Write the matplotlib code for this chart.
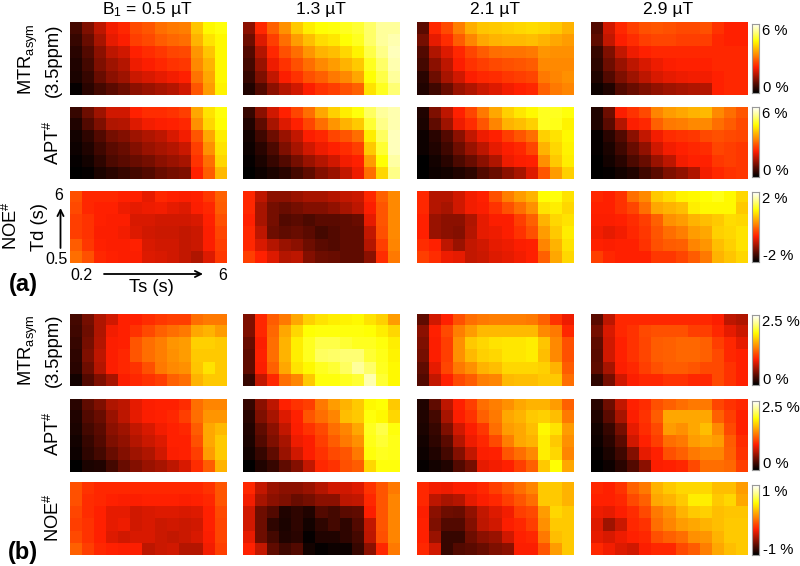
import matplotlib
matplotlib.use("Agg")
import matplotlib.pyplot as plt
from matplotlib.colors import LinearSegmentedColormap
import numpy as np

plt.rcParams['font.family'] = ['Liberation Sans', 'DejaVu Sans']
plt.rcParams['mathtext.fontset'] = 'custom'
plt.rcParams['mathtext.rm'] = 'Liberation Sans'
plt.rcParams['mathtext.default'] = 'regular'

# all maps are given as position on the colour scale (0 = bottom of colorbar, 1 = top)
# rows run top to bottom (Td 6 -> 0.5), columns left to right (Ts 0.2 -> 6)
a_mtr_05 = [[.10,.18,.27,.35,.38,.44,.46,.50,.52,.53,.65,.74,.76],
            [.08,.15,.24,.33,.36,.42,.44,.47,.49,.50,.62,.70,.74],
            [.06,.12,.20,.27,.30,.37,.39,.41,.43,.44,.57,.65,.74],
            [.05,.10,.18,.23,.26,.34,.36,.38,.40,.41,.55,.62,.74],
            [.04,.08,.15,.20,.23,.29,.31,.33,.35,.37,.51,.60,.74],
            [.01,.06,.10,.13,.16,.20,.22,.24,.26,.30,.46,.58,.73]]
a_mtr_13 = [[.20,.38,.48,.56,.66,.72,.75,.76,.78,.80,.85,.90,.90],
            [.16,.32,.42,.50,.58,.64,.69,.71,.75,.78,.85,.90,.92],
            [.12,.26,.38,.45,.50,.57,.62,.64,.68,.73,.82,.88,.93],
            [.10,.22,.34,.40,.45,.50,.55,.58,.62,.66,.78,.85,.92],
            [.08,.18,.28,.36,.40,.45,.48,.52,.55,.60,.75,.82,.90],
            [.05,.12,.20,.26,.30,.36,.40,.42,.45,.48,.70,.78,.86]]
a_mtr_21 = [[.13,.38,.44,.53,.61,.65,.66,.67,.68,.69,.68,.66,.62],
            [.17,.33,.39,.47,.54,.60,.62,.63,.63,.64,.62,.60,.58],
            [.12,.25,.32,.38,.43,.47,.50,.51,.51,.52,.57,.56,.56],
            [.10,.20,.27,.36,.40,.42,.44,.45,.46,.47,.55,.55,.55],
            [.06,.16,.24,.30,.36,.38,.39,.41,.42,.43,.52,.54,.56],
            [.05,.09,.15,.22,.25,.29,.32,.35,.37,.38,.48,.52,.54]]
a_mtr_29 = [[.12,.30,.38,.42,.45,.46,.45,.44,.44,.45,.40,.37,.37],
            [.14,.28,.36,.39,.42,.43,.43,.42,.42,.42,.38,.37,.37],
            [.08,.18,.28,.34,.37,.38,.38,.38,.38,.38,.38,.38,.38],
            [.07,.16,.22,.27,.31,.34,.36,.37,.37,.37,.38,.38,.38],
            [.05,.12,.18,.23,.27,.31,.33,.34,.35,.35,.37,.38,.38],
            [.02,.05,.12,.15,.18,.21,.23,.24,.25,.26,.37,.38,.38]]

a_apt_05 = [[.08,.16,.23,.30,.30,.37,.39,.39,.40,.42,.60,.70,.76],
            [.05,.12,.18,.25,.26,.32,.35,.36,.37,.38,.56,.68,.75],
            [.03,.07,.12,.17,.19,.23,.25,.27,.31,.35,.46,.60,.72],
            [.02,.05,.09,.13,.15,.19,.22,.24,.26,.29,.42,.56,.70],
            [.01,.03,.07,.11,.13,.15,.17,.20,.22,.24,.40,.50,.68],
            [.00,.01,.04,.06,.08,.10,.12,.15,.17,.18,.37,.47,.63]]
a_apt_13 = [[.08,.20,.30,.37,.43,.50,.60,.67,.72,.76,.84,.90,.92],
            [.05,.14,.24,.32,.37,.43,.50,.57,.62,.66,.80,.88,.92],
            [.03,.09,.16,.22,.28,.36,.38,.43,.46,.50,.72,.84,.93],
            [.02,.06,.11,.18,.24,.30,.34,.37,.39,.42,.66,.80,.93],
            [.01,.04,.08,.12,.17,.22,.26,.30,.35,.37,.58,.75,.91],
            [.00,.02,.04,.06,.10,.14,.19,.22,.28,.34,.50,.68,.88]]
a_apt_21 = [[.05,.18,.27,.37,.43,.52,.60,.67,.71,.74,.78,.78,.76],
            [.04,.14,.23,.34,.39,.46,.54,.62,.64,.67,.78,.77,.73],
            [.02,.06,.12,.20,.28,.34,.37,.42,.46,.50,.67,.70,.74],
            [.02,.05,.09,.16,.22,.27,.33,.36,.38,.43,.62,.68,.73],
            [.00,.03,.06,.11,.15,.20,.25,.34,.36,.37,.56,.66,.72],
            [.00,.02,.03,.05,.07,.12,.15,.20,.24,.32,.46,.58,.67]]
a_apt_29 = [[.05,.16,.36,.40,.44,.54,.58,.60,.62,.63,.55,.50,.46],
            [.05,.13,.26,.36,.38,.48,.52,.53,.55,.55,.50,.47,.44],
            [.01,.06,.12,.20,.28,.35,.39,.40,.41,.44,.45,.44,.43],
            [.01,.04,.09,.15,.21,.30,.35,.37,.38,.39,.43,.42,.41],
            [.00,.03,.06,.11,.15,.22,.27,.35,.37,.37,.41,.42,.41],
            [.00,.01,.03,.05,.09,.13,.18,.21,.25,.35,.38,.40,.41]]

a_noe_05 = [[.45,.38,.38,.38,.37,.37,.33,.38,.37,.36,.37,.41,.48],
            [.44,.38,.37,.37,.34,.33,.34,.35,.33,.32,.36,.38,.47],
            [.42,.40,.37,.36,.36,.31,.31,.30,.30,.30,.31,.37,.45],
            [.42,.40,.36,.36,.35,.32,.30,.29,.29,.28,.29,.36,.43],
            [.47,.41,.37,.36,.36,.37,.31,.30,.30,.28,.29,.36,.42],
            [.50,.45,.38,.37,.36,.36,.32,.31,.30,.28,.25,.32,.41]]
a_noe_13 = [[.38,.27,.20,.20,.22,.24,.24,.26,.28,.29,.38,.48,.55],
            [.38,.24,.17,.15,.17,.19,.19,.21,.24,.27,.36,.46,.55],
            [.37,.24,.17,.12,.13,.11,.13,.13,.14,.15,.33,.46,.55],
            [.38,.27,.16,.14,.15,.13,.10,.12,.14,.14,.28,.45,.55],
            [.38,.31,.26,.22,.20,.16,.13,.12,.14,.14,.26,.42,.54],
            [.42,.37,.32,.26,.27,.19,.16,.15,.14,.14,.20,.39,.52]]
a_noe_21 = [[.38,.26,.26,.30,.35,.37,.45,.53,.58,.62,.75,.76,.70],
            [.38,.26,.24,.30,.35,.36,.40,.45,.50,.56,.70,.72,.68],
            [.37,.22,.20,.20,.25,.33,.36,.36,.42,.48,.62,.68,.70],
            [.37,.22,.20,.19,.26,.33,.34,.36,.40,.45,.58,.66,.72],
            [.39,.37,.27,.22,.28,.30,.33,.34,.36,.37,.54,.62,.70],
            [.42,.39,.34,.33,.28,.29,.32,.33,.35,.37,.48,.60,.68]]
a_noe_29 = [[.38,.37,.40,.50,.55,.66,.69,.73,.74,.75,.77,.74,.68],
            [.37,.37,.40,.43,.50,.60,.62,.64,.72,.74,.74,.74,.66],
            [.36,.36,.37,.39,.42,.48,.56,.58,.62,.64,.66,.69,.68],
            [.35,.33,.35,.38,.41,.46,.50,.53,.58,.60,.67,.68,.70],
            [.37,.36,.37,.37,.40,.45,.47,.48,.54,.57,.64,.67,.70],
            [.42,.38,.37,.37,.37,.41,.41,.43,.47,.52,.62,.65,.68]]

b_mtr_05 = [[.10,.17,.25,.30,.37,.37,.39,.41,.42,.42,.50,.52,.52],
            [.09,.16,.25,.35,.37,.40,.44,.48,.50,.52,.60,.62,.58],
            [.08,.17,.26,.36,.37,.46,.50,.53,.57,.58,.67,.67,.66],
            [.07,.18,.27,.36,.38,.46,.50,.53,.56,.58,.66,.66,.66],
            [.06,.16,.26,.36,.38,.40,.45,.52,.55,.56,.65,.70,.66],
            [.03,.12,.18,.24,.36,.38,.40,.42,.48,.50,.62,.66,.66]]
b_mtr_13 = [[.18,.38,.47,.52,.60,.67,.70,.72,.73,.74,.70,.67,.58],
            [.18,.38,.49,.60,.68,.75,.76,.76,.76,.76,.75,.72,.68],
            [.15,.36,.50,.62,.72,.78,.82,.82,.80,.78,.78,.76,.72],
            [.14,.37,.50,.62,.72,.78,.84,.85,.86,.86,.80,.77,.73],
            [.14,.36,.48,.60,.70,.74,.78,.80,.84,.90,.85,.78,.74],
            [.08,.28,.38,.50,.54,.66,.76,.76,.78,.80,.92,.80,.74]]
b_mtr_21 = [[.14,.30,.37,.45,.50,.52,.53,.53,.53,.52,.48,.40,.34],
            [.20,.37,.44,.53,.58,.63,.63,.63,.63,.63,.55,.52,.38],
            [.18,.36,.42,.56,.66,.68,.70,.71,.71,.72,.65,.55,.45],
            [.17,.36,.42,.56,.63,.67,.68,.71,.71,.72,.64,.55,.45],
            [.14,.33,.43,.52,.56,.62,.64,.68,.68,.68,.67,.62,.47],
            [.12,.28,.37,.44,.47,.53,.54,.63,.64,.64,.66,.66,.50]]
b_mtr_29 = [[.13,.27,.38,.38,.38,.38,.38,.38,.38,.38,.36,.27,.25],
            [.17,.31,.38,.40,.44,.45,.45,.45,.42,.42,.38,.33,.29],
            [.14,.30,.37,.40,.43,.47,.48,.49,.49,.48,.42,.38,.33],
            [.13,.30,.37,.40,.43,.47,.48,.49,.49,.48,.44,.38,.37],
            [.14,.24,.36,.38,.42,.45,.47,.47,.46,.44,.44,.40,.37],
            [.07,.17,.30,.36,.38,.38,.40,.40,.38,.38,.44,.40,.37]]

b_apt_05 = [[.06,.14,.18,.25,.27,.33,.36,.37,.37,.39,.50,.54,.54],
            [.05,.12,.15,.22,.27,.33,.36,.37,.38,.42,.50,.57,.57],
            [.04,.10,.13,.20,.23,.28,.31,.35,.37,.38,.47,.60,.63],
            [.03,.08,.12,.18,.21,.26,.29,.32,.37,.37,.45,.60,.66],
            [.02,.07,.10,.15,.19,.23,.25,.30,.36,.37,.42,.58,.66],
            [.00,.04,.05,.10,.15,.19,.22,.24,.27,.31,.39,.47,.62]]
b_apt_13 = [[.08,.20,.27,.37,.40,.42,.52,.58,.62,.66,.74,.75,.66],
            [.06,.18,.24,.32,.37,.46,.50,.54,.64,.66,.76,.74,.68],
            [.05,.14,.20,.28,.36,.40,.44,.50,.54,.60,.78,.82,.76],
            [.04,.12,.18,.24,.34,.36,.42,.47,.52,.56,.77,.80,.77],
            [.03,.08,.14,.22,.30,.36,.40,.44,.46,.52,.76,.78,.77],
            [.00,.05,.08,.14,.19,.28,.38,.40,.45,.47,.68,.76,.76]]
b_apt_21 = [[.05,.14,.27,.37,.42,.50,.53,.56,.60,.62,.62,.58,.48],
            [.05,.10,.24,.36,.40,.48,.52,.60,.62,.66,.67,.64,.52],
            [.04,.08,.18,.30,.36,.41,.50,.58,.60,.64,.74,.70,.58],
            [.03,.07,.13,.26,.34,.38,.44,.53,.60,.62,.72,.66,.56],
            [.02,.05,.10,.19,.28,.36,.37,.46,.50,.55,.72,.68,.54],
            [.01,.03,.05,.12,.17,.33,.35,.37,.42,.48,.66,.75,.60]]
b_apt_29 = [[.06,.16,.28,.37,.39,.45,.48,.50,.52,.52,.43,.40,.38],
            [.05,.13,.24,.36,.40,.47,.60,.60,.60,.60,.48,.42,.37],
            [.03,.08,.17,.33,.39,.44,.58,.56,.60,.64,.55,.44,.37],
            [.02,.06,.13,.30,.37,.42,.50,.52,.58,.60,.58,.47,.39],
            [.01,.04,.09,.19,.33,.37,.45,.48,.52,.54,.54,.48,.40],
            [.00,.02,.06,.12,.20,.36,.37,.38,.44,.50,.50,.49,.42]]

b_noe_05 = [[.45,.40,.38,.38,.38,.38,.38,.38,.38,.38,.38,.40,.46],
            [.45,.39,.38,.37,.36,.36,.37,.37,.37,.36,.37,.38,.46],
            [.43,.39,.37,.33,.33,.30,.31,.32,.32,.31,.32,.37,.44],
            [.42,.40,.37,.33,.34,.30,.31,.29,.30,.29,.30,.37,.43],
            [.44,.40,.37,.32,.30,.31,.31,.29,.28,.29,.31,.36,.43],
            [.48,.42,.38,.37,.36,.36,.27,.29,.30,.26,.26,.35,.42]]
b_noe_13 = [[.38,.28,.22,.20,.20,.22,.26,.30,.30,.32,.40,.46,.52],
            [.35,.24,.20,.18,.15,.17,.20,.20,.27,.28,.38,.46,.54],
            [.30,.16,.12,.05,.07,.05,.12,.10,.13,.14,.36,.46,.54],
            [.30,.16,.07,.04,.07,.03,.07,.10,.07,.12,.28,.46,.54],
            [.33,.16,.10,.05,.06,.01,.05,.05,.07,.10,.27,.45,.54],
            [.37,.28,.14,.09,.12,.03,.01,.02,.02,.08,.20,.38,.52]]
b_noe_21 = [[.38,.35,.34,.36,.36,.38,.42,.46,.50,.54,.66,.66,.62],
            [.38,.27,.24,.26,.33,.36,.38,.42,.46,.50,.66,.66,.62],
            [.36,.20,.16,.15,.21,.28,.32,.35,.42,.44,.58,.68,.66],
            [.37,.18,.12,.12,.19,.27,.30,.36,.38,.42,.56,.66,.66],
            [.37,.22,.08,.08,.16,.20,.22,.30,.37,.38,.52,.64,.66],
            [.38,.30,.08,.12,.13,.15,.18,.20,.36,.36,.46,.58,.66]]
b_noe_29 = [[.38,.37,.40,.48,.52,.62,.66,.68,.68,.68,.64,.64,.58],
            [.37,.37,.38,.44,.48,.60,.62,.66,.72,.72,.66,.68,.60],
            [.34,.33,.36,.39,.44,.52,.56,.62,.66,.67,.64,.65,.65],
            [.32,.23,.29,.38,.40,.50,.54,.58,.60,.62,.64,.66,.66],
            [.33,.31,.34,.37,.38,.45,.48,.50,.56,.57,.62,.66,.66],
            [.38,.35,.32,.30,.36,.38,.38,.44,.47,.53,.60,.64,.66]]

panels = [[a_mtr_05, a_mtr_13, a_mtr_21, a_mtr_29],
          [a_apt_05, a_apt_13, a_apt_21, a_apt_29],
          [a_noe_05, a_noe_13, a_noe_21, a_noe_29],
          [b_mtr_05, b_mtr_13, b_mtr_21, b_mtr_29],
          [b_apt_05, b_apt_13, b_apt_21, b_apt_29],
          [b_noe_05, b_noe_13, b_noe_21, b_noe_29]]

b1_labels = ['B$_1$ = 0.5 µT', '1.3 µT', '2.1 µT', '2.9 µT']
cbar_top = ['6 %', '6 %', '2 %', '2.5 %', '2.5 %', '1 %']
cbar_bottom = ['0 %', '0 %', '-2 %', '0 %', '0 %', '-1 %']

W, H = 800, 566
FS = 13.2
col_x = [70, 243, 416.5, 590.5]
row_y = [(22, 95), (106.5, 179.5), (191, 263.5), (313.5, 386.5), (399, 472), (482, 555)]
cbar_y = [(24, 93), (107, 177), (192, 262), (315, 385), (401, 470), (485, 555)]

# like 'hot' but the red is a touch orange, as in the reference
hot2 = LinearSegmentedColormap.from_list('hot2', [(0, (0, 0, 0)), (.365, (1, .12, 0)),
                                                  (.75, (1, 1, 0)), (1, (1, 1, 1))])

fig = plt.figure(figsize=(8, 5.66), dpi=100)


def px_axes(x0, y0, x1, y1):
    return fig.add_axes([x0 / W, 1 - y1 / H, (x1 - x0) / W, (y1 - y0) / H])


def txt(x, y, s, **kw):
    kw.setdefault('ha', 'center')
    kw.setdefault('va', 'center')
    kw.setdefault('fontsize', FS)
    fig.text(x / W, 1 - y / H, s, **kw)


def arrow(x0, y0, x1, y1):
    fig.add_artist(matplotlib.patches.FancyArrowPatch(
        (x0 / W, 1 - y0 / H), (x1 / W, 1 - y1 / H), transform=fig.transFigure,
        arrowstyle='->', mutation_scale=11, lw=1.3, color='black',
        shrinkA=0, shrinkB=0))


for r, row in enumerate(panels):
    top, bottom = row_y[r]
    for c, values in enumerate(row):
        ax = px_axes(col_x[c], top, col_x[c] + 157, bottom)
        ax.imshow(np.array(values), cmap=hot2, vmin=0, vmax=1, aspect='auto',
                  interpolation='nearest')
        ax.axis('off')

    # colorbar
    cax = px_axes(751.5, cbar_y[r][0], 758.5, cbar_y[r][1])
    cax.imshow(np.linspace(1, 0, 64)[:, None], cmap=hot2, vmin=0, vmax=1, aspect='auto')
    cax.set_xticks([])
    cax.set_yticks([])
    for s in cax.spines.values():
        s.set_color('#999999')
        s.set_linewidth(0.8)
    txt(762, cbar_y[r][0] + 7, cbar_top[r], ha='left', fontsize=10.6)
    txt(763, cbar_y[r][1] - 5.5, cbar_bottom[r], ha='left', fontsize=10.6)

for c, label in enumerate(b1_labels):
    txt(col_x[c] + 78 if c else 147, 14, label, fontsize=12.6, va='baseline')

# row labels, part (a)
txt(28, 59, 'MTR$_{asym}$', rotation=90)
txt(53, 60, '(3.5ppm)', rotation=90)
txt(53, 142, 'APT$^{\\#}$', rotation=90)
txt(11, 225, 'NOE$^{\\#}$', rotation=90)

# row labels, part (b)
txt(28, 350, 'MTR$_{asym}$', rotation=90)
txt(53, 350, '(3.5ppm)', rotation=90)
txt(53, 433, 'APT$^{\\#}$', rotation=90)
txt(53, 517, 'NOE$^{\\#}$', rotation=90)

# acquisition axes on the first NOE map
txt(59, 196, '6', fontsize=11.5)
txt(56, 260, '0.5', fontsize=11.5)
txt(39, 227, 'Td (s)', rotation=90)
arrow(60.5, 248, 60.5, 208)
txt(81, 276, '0.2', fontsize=11.5)
txt(223, 276, '6', fontsize=11.5)
txt(151, 288, 'Ts (s)')
arrow(104, 274, 203, 274)

txt(23, 285, '(a)', fontsize=17, fontweight='bold')
txt(23, 552, '(b)', fontsize=17, fontweight='bold')

fig.savefig('out.png', dpi=100)
